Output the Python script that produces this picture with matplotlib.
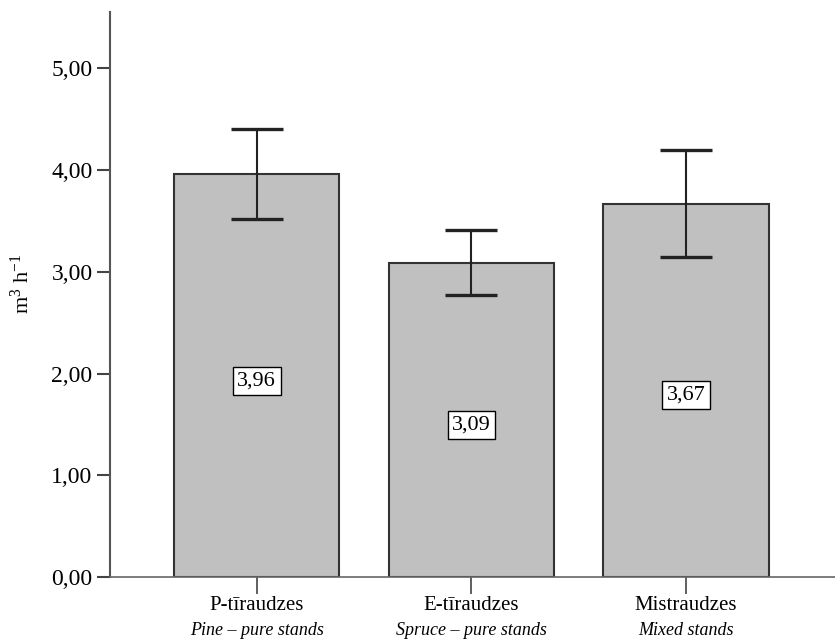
import matplotlib
matplotlib.use("Agg")
import matplotlib.pyplot as plt
from matplotlib.transforms import blended_transform_factory

plt.rcParams["font.family"] = ["Liberation Serif", "DejaVu Serif"]
plt.rcParams["mathtext.fontset"] = "custom"
plt.rcParams["mathtext.rm"] = "Liberation Serif"
plt.rcParams["mathtext.it"] = "Liberation Serif:italic"

# data
groups_lv = ["P-tīraudzes", "E-tīraudzes", "Mistraudzes"]
groups_en = ["Pine – pure stands", "Spruce – pure stands", "Mixed stands"]
means = [3.96, 3.09, 3.67]
err_low = [3.52, 2.77, 3.15]
err_high = [4.40, 3.41, 4.20]
value_labels = ["3,96", "3,09", "3,67"]
yticks = [0, 1, 2, 3, 4, 5]
ytick_labels = ["0,00", "1,00", "2,00", "3,00", "4,00", "5,00"]

fig = plt.figure(figsize=(8.35, 6.41), dpi=100)
ax = fig.add_axes([0.1317, 0.0998, 0.868, 0.881])

x = list(range(len(means)))
ax.bar(x, means, width=0.77, color="#c0c0c0", edgecolor="#333333", linewidth=1.5, zorder=2)

yerr = [[m - lo for m, lo in zip(means, err_low)], [hi - m for m, hi in zip(means, err_high)]]
ax.errorbar(x, means, yerr=yerr, fmt="none", ecolor="#222222", elinewidth=1.5,
            capsize=19, capthick=2.4, zorder=3)

# boxed mean labels sit around mid-height of each bar
for xi, m, lab in zip(x, means, value_labels):
    ax.text(xi, m / 2 - 0.05, lab, ha="center", va="center", fontsize=16, zorder=4,
            bbox=dict(boxstyle="square,pad=0.2", facecolor="white", edgecolor="black", linewidth=1))

ax.set_xlim(-0.684, 2.693)
ax.set_ylim(0, 5.55)
ax.set_yticks(yticks)
ax.set_yticklabels(ytick_labels, fontsize=17)
ax.set_xticks(x)
ax.set_xticklabels(groups_lv, fontsize=15)
ax.tick_params(axis="y", length=9.5, width=1.5, color="#444444", pad=3)
ax.tick_params(axis="x", length=12, width=1.2, color="#444444", pad=2)

trans = blended_transform_factory(ax.transData, ax.transAxes)
for xi, lab in zip(x, groups_en):
    ax.text(xi, -0.095, lab, transform=trans, ha="center", va="center",
            fontsize=13, style="italic")

ax.spines["top"].set_visible(False)
ax.spines["right"].set_visible(False)
ax.spines["left"].set_color("#555555")
ax.spines["left"].set_linewidth(1.5)
ax.spines["bottom"].set_color("#666666")
ax.spines["bottom"].set_linewidth(1.2)

ax.set_ylabel(r"m$^{3}$ h$^{-1}$", fontsize=16, labelpad=12)
ax.yaxis.set_label_coords(-0.105, 0.52)

fig.savefig("out.png", dpi=100)
